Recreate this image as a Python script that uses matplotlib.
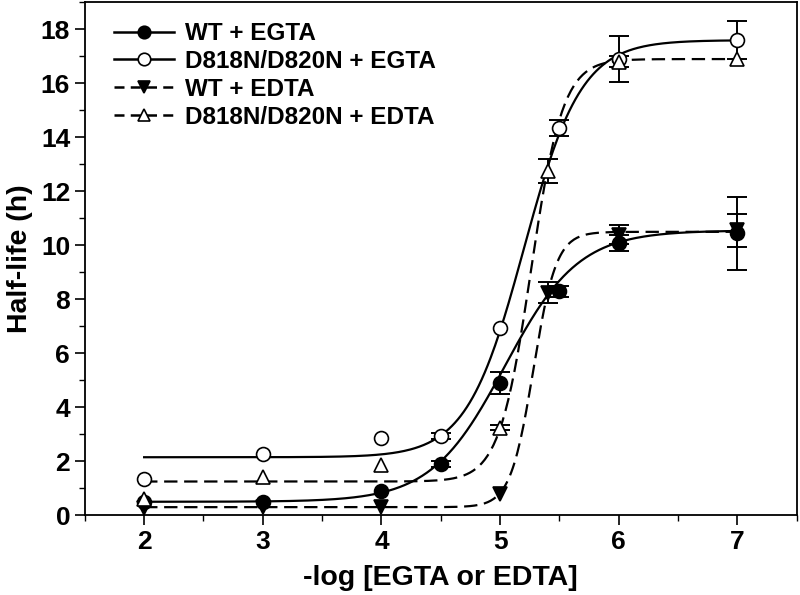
import numpy as np
import matplotlib
matplotlib.use("Agg")
import matplotlib.pyplot as plt
from matplotlib.ticker import MultipleLocator

plt.rcParams['font.family'] = ['Liberation Sans', 'DejaVu Sans']
plt.rcParams['font.weight'] = 'bold'

# datos
x_egta = [2, 3, 4, 4.5, 5, 5.5, 6, 7]
wt_egta = [0.5, 0.5, 0.9, 1.9, 4.9, 8.3, 10.1, 10.45]
wt_egta_err = [0, 0, 0, 0.1, 0.4, 0.2, 0.3, 1.35]
mut_egta = [1.33, 2.26, 2.85, 2.93, 6.93, 14.35, 16.9, 17.6]
mut_egta_err = [0, 0, 0, 0.1, 0, 0.3, 0.85, 0.7]

x_edta = [2, 3, 4, 5, 5.4, 6, 7]
wt_edta = [0.26, 0.3, 0.3, 0.8, 8.25, 10.4, 10.55]
wt_edta_err = [0, 0, 0, 0, 0.4, 0.35, 0.6]
mut_edta = [0.6, 1.4, 1.85, 3.25, 12.75, 16.8, 16.9]
mut_edta_err = [0, 0, 0, 0.1, 0.45, 0.2, 0]

# parametros del ajuste sigmoide: abajo, arriba, x50, pendiente
fit_wt_egta = [0.5, 10.55, 5.04, 1.4]
fit_mut_egta = [2.15, 17.6, 5.2, 1.8]
fit_wt_edta = [0.3, 10.5, 5.28, 4.5]
fit_mut_edta = [1.25, 16.9, 5.26, 3.24]


def sigmoide(x, p):
    bottom, top, x50, h = p
    return bottom + (top - bottom) / (1 + 10 ** ((x50 - x) * h))


fig = plt.figure(figsize=(8, 5.95), dpi=100)
ax = fig.add_axes([0.106, 0.134, 0.89, 0.862])

xs = np.linspace(2, 7, 400)
series = [
    (x_egta, wt_egta, wt_egta_err, fit_wt_egta, '-', 'o', 'black', "WT + EGTA"),
    (x_egta, mut_egta, mut_egta_err, fit_mut_egta, '-', 'o', 'white', "D818N/D820N + EGTA"),
    (x_edta, wt_edta, wt_edta_err, fit_wt_edta, '--', 'v', 'black', "WT + EDTA"),
    (x_edta, mut_edta, mut_edta_err, fit_mut_edta, '--', '^', 'white', "D818N/D820N + EDTA"),
]

for xd, yd, err, fit, ls, mk, fc, lab in series:
    xd = np.array(xd)
    yd = np.array(yd)
    err = np.array(err)
    ax.plot(xs, sigmoide(xs, fit), color='black', linestyle=ls, linewidth=1.6,
            dashes=(6, 3) if ls == '--' else (None, None), zorder=2)
    m = err > 0
    ax.errorbar(xd[m], yd[m], yerr=err[m], fmt='none', ecolor='black',
                elinewidth=1.4, capsize=7, capthick=1.4, zorder=3)
    ax.plot(xd, yd, linestyle='none', marker=mk, markersize=10,
            markerfacecolor=fc, markeredgecolor='black', markeredgewidth=1.2, zorder=4)
    # entrada de la leyenda
    ax.plot([], [], color='black', linestyle=ls, linewidth=1.8, marker=mk,
            markersize=9, markerfacecolor=fc, markeredgecolor='black',
            markeredgewidth=1.2, label=lab,
            dashes=(4, 2.5) if ls == '--' else (None, None))

ax.set_xlim(1.5, 7.5)
ax.set_ylim(0, 19)
ax.set_xticks([2, 3, 4, 5, 6, 7])
ax.set_yticks(range(0, 19, 2))
ax.xaxis.set_minor_locator(MultipleLocator(0.5))
ax.yaxis.set_minor_locator(MultipleLocator(1))
ax.tick_params(which='major', direction='out', length=7, width=1.2, labelsize=19)
ax.tick_params(which='minor', direction='out', length=4, width=1.0)
ax.tick_params(top=False, right=False)
for s in ax.spines.values():
    s.set_linewidth(1.3)

ax.set_xlabel("-log [EGTA or EDTA]", fontsize=20.5, fontweight='bold', labelpad=8)
ax.set_ylabel("Half-life (h)", fontsize=20.5, fontweight='bold', labelpad=6)

ax.legend(loc='upper left', bbox_to_anchor=(0.02, 0.99), frameon=False,
          fontsize=17.5, handlelength=2.5, handletextpad=0.45, labelspacing=0.2,
          borderaxespad=0.2)

plt.savefig("out.png", dpi=100)
